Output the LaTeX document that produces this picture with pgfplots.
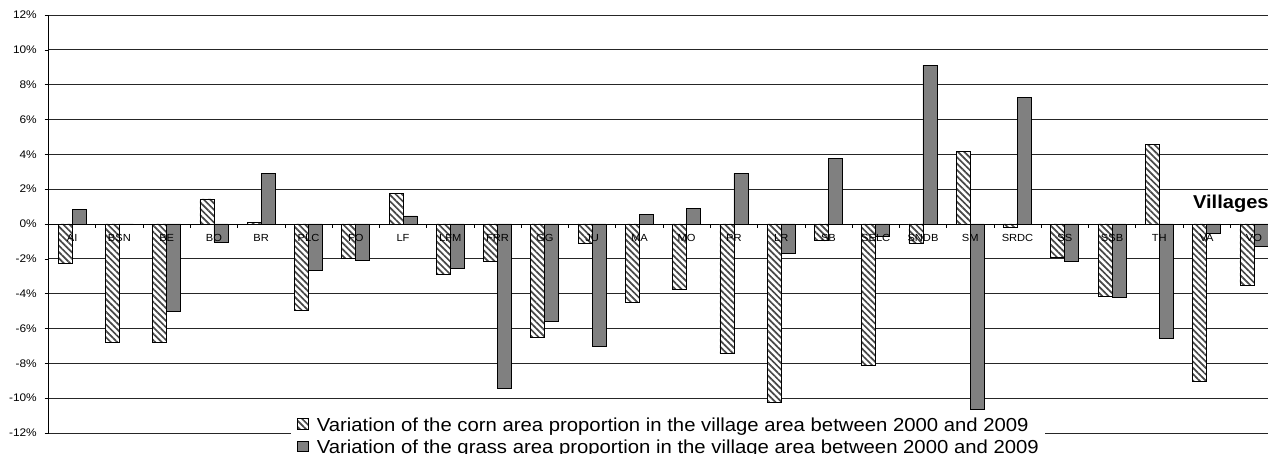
\documentclass[border=0pt]{standalone}
\usepackage{fontspec}
\setmainfont{Liberation Sans}[FakeStretch=1.08]
\usepackage{pgfplots}
\usepackage{pgfplotstable}
\pgfplotsset{compat=1.18}
\usetikzlibrary{patterns.meta}
\definecolor{grassgray}{HTML}{808080}
\tikzset{xlab/.style={anchor=north, inner sep=0pt, yshift=-10.5pt, font=\fontsize{10.3}{12}\selectfont}}

\pgfplotstableread{
x corn grass
0 -2.26 0.84
1 -6.78 0.00
2 -6.78 -5.03
3 1.44 -1.03
4 0.11 2.91
5 -4.94 -2.66
6 -1.97 -2.07
7 1.76 0.46
8 -2.87 -2.55
9 -2.16 -9.44
10 -6.51 -5.59
11 -1.13 -7.02
12 -4.50 0.56
13 -3.75 0.90
14 -7.43 2.91
15 -10.24 -1.68
16 -0.94 3.77
17 -8.11 -0.69
18 -1.11 9.11
19 4.17 -10.64
20 -0.19 7.27
21 -1.91 -2.16
22 -4.13 -4.23
23 4.56 -6.56
24 -9.03 -0.54
25 -3.50 -1.30
}\datatable

\begin{document}
\begin{tikzpicture}
\begin{axis}[
  at={(48.5pt,21pt)}, anchor=south west,
  scale only axis, width=1229pt, height=418pt,
  xmin=-0.5, xmax=25.5, ymin=-12, ymax=12,
  ybar=0pt, bar width=14pt,
  axis x line=middle, axis y line=left,
  axis line style={-, black, line width=0.8pt},
  hide obscured x ticks=false, hide obscured y ticks=false,
  xtick={0,1,...,25},
  xticklabels={},
  major x tick style={draw=none},
  minor xtick={-0.5,0.5,...,25.5},
  minor x tick style={black, line width=0.6pt},
  minor tick length=4pt,
  major tick length=4pt,
  tick align=outside,
  ytick={-12,-10,...,12},
  yticklabels={-12\%,-10\%,-8\%,-6\%,-4\%,-2\%,0\%,2\%,4\%,6\%,8\%,10\%,12\%},
  y tick label style={font=\fontsize{11}{12}\selectfont, anchor=east, inner sep=0pt, xshift=-7.5pt},
  major y tick style={black, line width=0.6pt},
  ymajorgrids, grid style={black!85, line width=0.8pt},
  legend image code/.code={\draw[#1, line width=0.6pt] (0pt,-3pt) rectangle (10.5pt,7.5pt);},
  legend cell align=left,
  legend style={at={(0.1973,0.0478)}, anchor=north west, draw=none, fill=white,
    font=\fontsize{18.8}{22}\selectfont, inner xsep=6pt, inner ysep=4pt,
    nodes={inner sep=0pt, text height=14pt, text depth=4pt},
    column sep=8.5pt, row sep=4.5pt},
]
\addplot[draw=black, line width=0.7pt, preaction={fill=white},
  pattern={Lines[angle=-45,distance=4.5pt,line width=1.7pt]}, pattern color=black!72]
  table[x=x, y=corn] {\datatable};
\addlegendentry{Variation of the corn area proportion in the village area between 2000 and 2009}
\addplot[draw=black, line width=0.7pt, fill=grassgray]
  table[x=x, y=grass] {\datatable};
\addlegendentry{Variation of the grass area proportion in the village area between 2000 and 2009}
\node[xlab] at (axis cs:0,0) {AI};
\node[xlab] at (axis cs:1,0) {BSN};
\node[xlab] at (axis cs:2,0) {BE};
\node[xlab] at (axis cs:3,0) {BO};
\node[xlab] at (axis cs:4,0) {BR};
\node[xlab] at (axis cs:5,0) {PLC};
\node[xlab] at (axis cs:6,0) {FO};
\node[xlab] at (axis cs:7,0) {LF};
\node[xlab] at (axis cs:8,0) {LFM};
\node[xlab] at (axis cs:9,0) {FRR};
\node[xlab] at (axis cs:10,0) {GG};
\node[xlab] at (axis cs:11,0) {JU};
\node[xlab] at (axis cs:12,0) {MA};
\node[xlab] at (axis cs:13,0) {MO};
\node[xlab] at (axis cs:14,0) {PR};
\node[xlab] at (axis cs:15,0) {LR};
\node[xlab] at (axis cs:16,0) {SB};
\node[xlab] at (axis cs:17,0) {SELC};
\node[xlab] at (axis cs:18,0) {SNDB};
\node[xlab] at (axis cs:19,0) {SM};
\node[xlab] at (axis cs:20,0) {SRDC};
\node[xlab] at (axis cs:21,0) {SS};
\node[xlab] at (axis cs:22,0) {SSB};
\node[xlab] at (axis cs:23,0) {TH};
\node[xlab] at (axis cs:24,0) {VA};
\node[xlab] at (axis cs:25,0) {VO};
\node[anchor=base west, inner sep=0pt, font=\bfseries\fontsize{18.6}{20}\selectfont] at (axis cs:23.71,0.90) {Villages};
\end{axis}
\pgfresetboundingbox
\useasboundingbox (0,0) rectangle (1268pt,454pt);
\end{tikzpicture}
\end{document}
